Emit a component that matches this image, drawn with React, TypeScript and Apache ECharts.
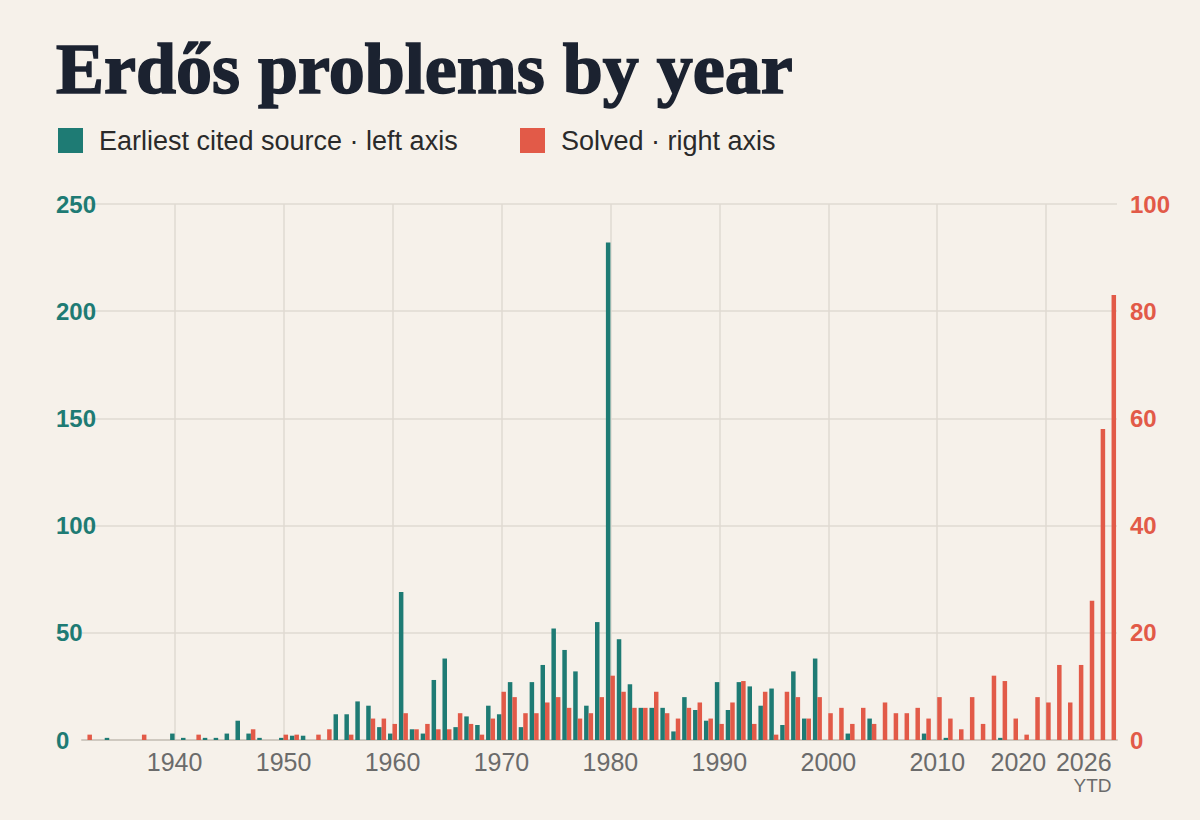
import React, { useEffect, useRef } from "react";
import * as echarts from "echarts";

// Categories: one per year, 1932 … 2026 (2026 = year to date)
const years: string[] = [
  "1932", "1933", "1934", "1935", "1936", "1937", "1938", "1939",
  "1940", "1941", "1942", "1943", "1944", "1945", "1946", "1947", "1948", "1949",
  "1950", "1951", "1952", "1953", "1954", "1955", "1956", "1957", "1958", "1959",
  "1960", "1961", "1962", "1963", "1964", "1965", "1966", "1967", "1968", "1969",
  "1970", "1971", "1972", "1973", "1974", "1975", "1976", "1977", "1978", "1979",
  "1980", "1981", "1982", "1983", "1984", "1985", "1986", "1987", "1988", "1989",
  "1990", "1991", "1992", "1993", "1994", "1995", "1996", "1997", "1998", "1999",
  "2000", "2001", "2002", "2003", "2004", "2005", "2006", "2007", "2008", "2009",
  "2010", "2011", "2012", "2013", "2014", "2015", "2016", "2017", "2018", "2019",
  "2020", "2021", "2022", "2023", "2024", "2025", "2026",
];

// Earliest cited source (left axis)
const earliestCited: number[] = [
  0, 0, 1, 0, 0, 0, 0, 0,
  3, 1, 0, 1, 1, 3, 9, 3, 1, 0,
  1, 2, 2, 0, 0, 12, 12, 18, 16, 6,
  3, 69, 5, 3, 28, 38, 6, 11, 7, 16,
  12, 27, 6, 27, 35, 52, 42, 32, 16, 55,
  232, 47, 26, 15, 15, 15, 4, 20, 14, 9,
  27, 14, 27, 25, 16, 24, 7, 32, 10, 38,
  0, 0, 3, 0, 10, 0, 0, 0, 0, 3,
  0, 1, 0, 0, 0, 0, 1, 0, 0, 0,
  0, 0, 0, 0, 0, 0, 0,
];

// Solved (right axis)
const solved: number[] = [
  1, 0, 0, 0, 0, 1, 0, 0,
  0, 0, 1, 0, 0, 0, 0, 2, 0, 0,
  1, 1, 0, 1, 2, 0, 1, 0, 4, 4,
  3, 5, 2, 3, 2, 2, 5, 3, 1, 4,
  9, 8, 5, 5, 7, 8, 6, 4, 5, 8,
  12, 9, 6, 6, 9, 5, 4, 6, 7, 4,
  3, 7, 11, 3, 9, 1, 9, 8, 4, 8,
  5, 6, 3, 6, 3, 7, 5, 5, 6, 4,
  8, 4, 2, 8, 3, 12, 11, 4, 1, 8,
  7, 14, 7, 14, 26, 58, 83,
];

const leftTicks = [0, 50, 100, 150, 200, 250];
const rightTicks = [0, 20, 40, 60, 80, 100];
const centeredLabels = ["1940", "1950", "1960", "1970", "1980", "1990", "2000", "2010"];
const rightAlignedLabels = ["2020", "2026"];
const gridYears = ["1940", "1950", "1960", "1970", "1980", "1990", "2000", "2010", "2020"];
const ytdYear = "2026";

const TITLE = "Erdős problems by year";
const SERIES_LEFT = "Earliest cited source · left axis";
const SERIES_RIGHT = "Solved · right axis";

const BG = "#f6f1ea";
const TEAL = "#1e7b74";
const RED = "#e25a48";
const INK = "#1b2230";
const GRID = "#dfdad2";
const LABEL = "#6b6b6b";
const SANS = "'Liberation Sans', Arial, Helvetica, sans-serif";
const SERIF = "'Liberation Serif', 'Times New Roman', serif";

export default function App() {
  const ref = useRef<HTMLDivElement>(null);

  useEffect(() => {
    document.body.style.margin = "0";
    document.body.style.background = BG;
    if (!ref.current) return;
    const chart = echarts.init(ref.current, null, { renderer: "svg" });

    const legendBase = {
      top: 127,
      padding: 0,
      itemWidth: 25,
      itemHeight: 25,
      icon: "rect",
      selectedMode: false,
      textStyle: {
        fontFamily: SANS,
        fontSize: 27,
        color: "#2a2a2a",
        padding: [0, 0, 0, 11],
      },
    };

    const option: any = {
      animation: false,
      backgroundColor: BG,
      title: {
        text: TITLE,
        left: 56,
        top: 33,
        padding: 0,
        textStyle: {
          fontFamily: SERIF,
          fontWeight: "bold",
          fontSize: 72,
          color: INK,
          textBorderColor: INK,
          textBorderWidth: 1.6,
        },
      },
      legend: [
        { ...legendBase, left: 58, data: [SERIES_LEFT] },
        { ...legendBase, left: 520, data: [SERIES_RIGHT] },
      ],
      grid: { left: 82, top: 204, width: 1035, height: 536, containLabel: false },
      xAxis: [
        {
          type: "category",
          data: years,
          boundaryGap: true,
          axisLine: { show: true, lineStyle: { color: "#cfc9c0", width: 2 } },
          axisTick: { show: false },
          axisLabel: {
            interval: (_i: number, v: string) => centeredLabels.includes(v),
            fontFamily: SANS,
            fontSize: 25,
            color: LABEL,
            margin: 9,
          },
          splitLine: {
            show: true,
            alignWithLabel: true,
            interval: (_i: number, v: string) => gridYears.includes(v),
            lineStyle: { color: GRID, width: 1.5 },
          },
        },
        {
          type: "category",
          data: years,
          position: "bottom",
          boundaryGap: true,
          axisLine: { show: false },
          axisTick: { show: false },
          splitLine: { show: false },
          axisLabel: {
            interval: (_i: number, v: string) => rightAlignedLabels.includes(v),
            align: "right",
            fontFamily: SANS,
            fontSize: 25,
            color: LABEL,
            margin: 9,
            lineHeight: 26,
            formatter: (v: string) => (v === ytdYear ? v + "\n{y|YTD}" : v),
            rich: {
              y: { fontFamily: SANS, fontSize: 19, color: LABEL, lineHeight: 21, align: "right" },
            },
          },
        },
      ],
      yAxis: [
        {
          type: "value",
          position: "left",
          min: leftTicks[0],
          max: leftTicks[leftTicks.length - 1],
          interval: leftTicks[1] - leftTicks[0],
          axisLine: { show: false },
          axisTick: { show: false },
          axisLabel: {
            align: "left",
            margin: 26,
            fontFamily: SANS,
            fontSize: 24,
            fontWeight: "bold",
            color: TEAL,
          },
          splitLine: { show: true, lineStyle: { color: GRID, width: 1.5 } },
        },
        {
          type: "value",
          position: "right",
          min: rightTicks[0],
          max: rightTicks[rightTicks.length - 1],
          interval: rightTicks[1] - rightTicks[0],
          axisLine: { show: false },
          axisTick: { show: false },
          axisLabel: {
            margin: 13,
            fontFamily: SANS,
            fontSize: 24,
            fontWeight: "bold",
            color: RED,
          },
          splitLine: { show: false },
        },
      ],
      series: [
        {
          name: SERIES_LEFT,
          type: "bar",
          xAxisIndex: 0,
          yAxisIndex: 0,
          data: earliestCited,
          barWidth: 4.5,
          barGap: "0%",
          itemStyle: { color: TEAL },
        },
        {
          name: SERIES_RIGHT,
          type: "bar",
          xAxisIndex: 0,
          yAxisIndex: 1,
          data: solved,
          barWidth: 4.5,
          barGap: "0%",
          itemStyle: { color: RED },
        },
      ],
    };

    chart.setOption(option);
    return () => chart.dispose();
  }, []);

  return <div ref={ref} style={{ width: 1200, height: 820, background: BG }} />;
}
